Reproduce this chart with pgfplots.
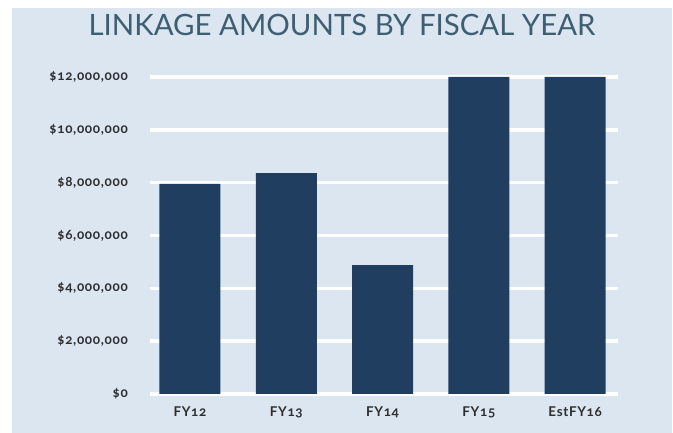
\documentclass[border=0pt]{standalone}
\usepackage{fontspec}
\setmainfont{Lato}[Numbers=OldStyle]
\newfontfamily\tickfont{Lato}[LetterSpace=5,Numbers=OldStyle]
\usepackage{pgfplots}
\pgfplotsset{compat=1.18}
\definecolor{panel}{HTML}{DCE6F1}
\definecolor{barc}{HTML}{1F3E60}
\definecolor{titlec}{HTML}{3E5E72}
\definecolor{tickc}{HTML}{2E2E2E}
\begin{document}
\begin{tikzpicture}[x=1bp,y=1bp]
\fill[white] (0,0) rectangle (673,433);
\fill[panel] (12,0) rectangle (672,425);
\node[text=titlec,font=\fontsize{29.5}{33}\selectfont] at (342,408) {LINKAGE AMOUNTS BY FISCAL YEAR};
\begin{axis}[
  at={(150bp,39bp)}, anchor=south west,
  scale only axis, width=468bp, height=317bp,
  xmin=-0.415, xmax=4.445,
  ymin=0, ymax=12000000,
  axis line style={draw=none},
  major tick length=0pt,
  ymajorgrids, grid style={white, line width=3.5bp},
  ytick={0,2000000,4000000,6000000,8000000,10000000,12000000},
  yticklabels={{\$0},{\$2,000,000},{\$4,000,000},{\$6,000,000},{\$8,000,000},{\$10,000,000},{\$12,000,000}},
  xtick={0,1,2,3,4},
  xticklabels={FY12,FY13,FY14,FY15,EstFY16},
  scaled y ticks=false,
  tick label style={font=\tickfont\fontsize{13.5}{15}\selectfont\bfseries, text=tickc},
  yticklabel style={anchor=east, inner sep=0pt, xshift=-22bp},
  xticklabel style={anchor=north, inner sep=0pt, yshift=-13bp},
  clip=false,
]
\addplot[ybar, bar width=61bp, fill=barc, draw=none] coordinates {
  (0,7950000) (1,8360000) (2,4880000) (3,12000000) (4,12000000)
};
\end{axis}
\end{tikzpicture}
\end{document}
